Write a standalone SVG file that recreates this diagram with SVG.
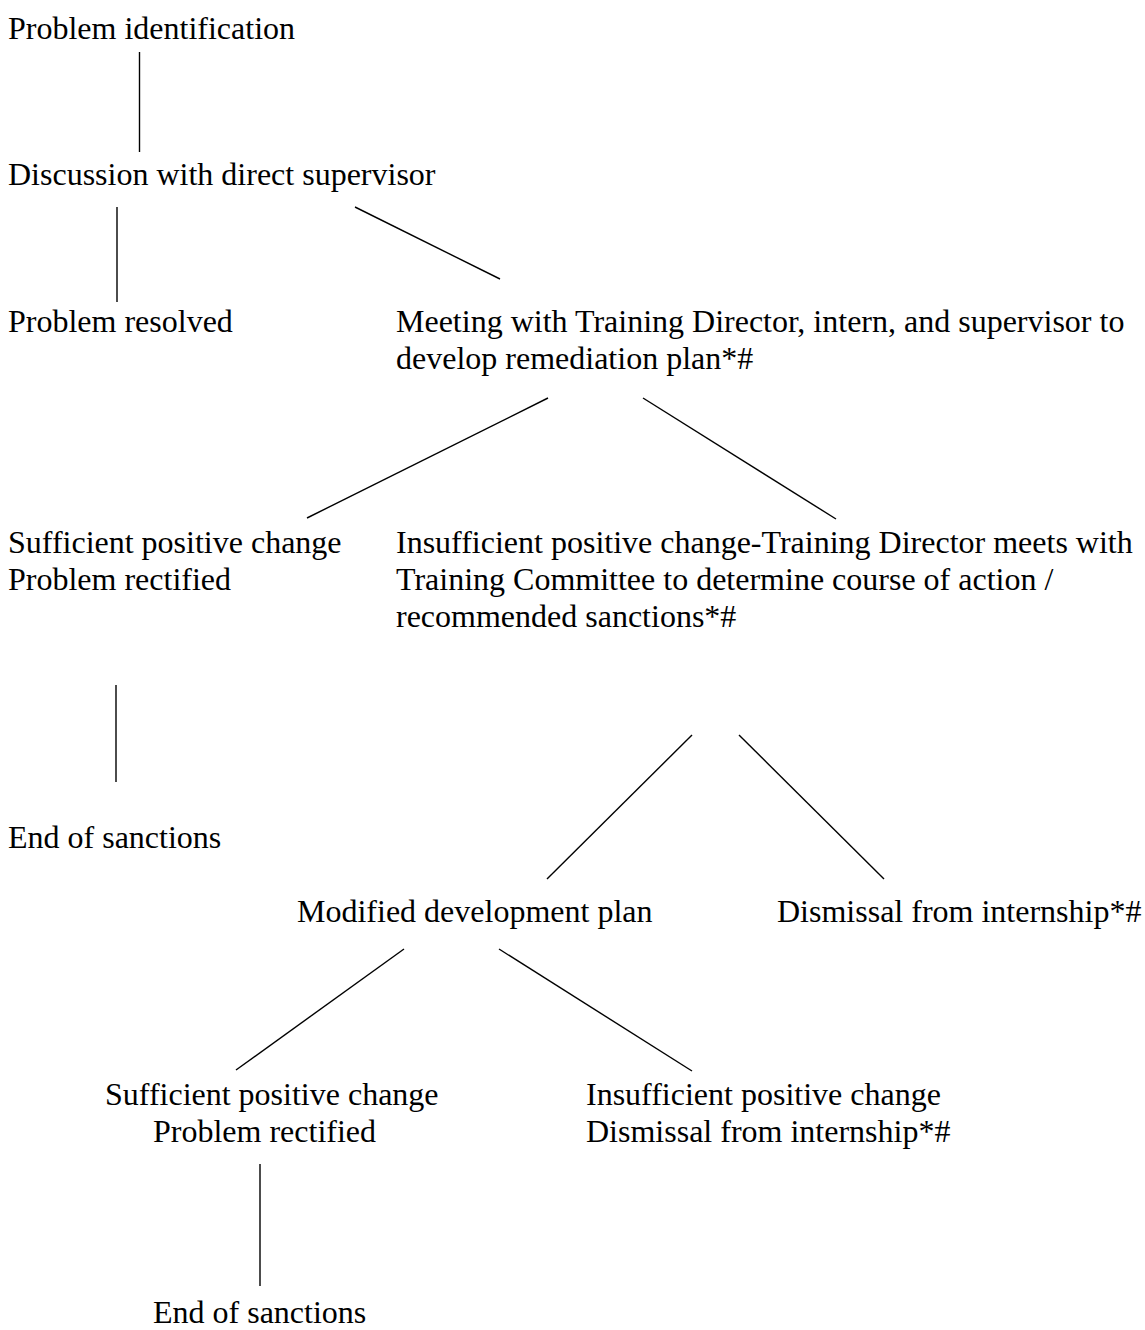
<svg xmlns="http://www.w3.org/2000/svg" width="1145" height="1330" viewBox="0 0 1145 1330">
<style>
text { font-family: "Liberation Serif", "Times New Roman", serif; font-size: 32px; fill: #000; }
.c line { stroke: #000; stroke-width: 1.4; }
</style>
<rect width="1145" height="1330" fill="#fff"/>
<g class="c" id="connectors">
<line x1="139.5" y1="52" x2="139.5" y2="152"/>
<line x1="117" y1="207" x2="117" y2="302"/>
<line x1="355" y1="207" x2="500" y2="279"/>
<line x1="548" y1="398" x2="307" y2="518"/>
<line x1="643" y1="398" x2="836" y2="519"/>
<line x1="116" y1="685" x2="116" y2="782"/>
<line x1="692" y1="735" x2="547" y2="879"/>
<line x1="739" y1="735" x2="884" y2="879"/>
<line x1="404" y1="949" x2="236" y2="1070"/>
<line x1="499" y1="949" x2="692" y2="1071"/>
<line x1="260" y1="1164" x2="260" y2="1286"/>
</g>
<g id="n1"><text x="8" y="39">Problem identification</text></g>
<g id="n2"><text x="8" y="185">Discussion with direct supervisor</text></g>
<g id="n3"><text x="8" y="332">Problem resolved</text></g>
<g id="n4"><text x="396" y="332">Meeting with Training Director, intern, and supervisor to</text><text x="396" y="369">develop remediation plan*#</text></g>
<g id="n5"><text x="8" y="553">Sufficient positive change</text><text x="8" y="590">Problem rectified</text></g>
<g id="n6"><text x="396" y="553">Insufficient positive change-Training Director meets with</text><text x="396" y="590">Training Committee to determine course of action /</text><text x="396" y="627">recommended sanctions*#</text></g>
<g id="n7"><text x="8" y="848">End of sanctions</text></g>
<g id="n8"><text x="297" y="922">Modified development plan</text></g>
<g id="n9"><text x="777" y="922">Dismissal from internship*#</text></g>
<g id="n10"><text x="105" y="1105">Sufficient positive change</text><text x="153" y="1142">Problem rectified</text></g>
<g id="n11"><text x="586" y="1105">Insufficient positive change</text><text x="586" y="1142">Dismissal from internship*#</text></g>
<g id="n12"><text x="153" y="1323">End of sanctions</text></g>
</svg>
